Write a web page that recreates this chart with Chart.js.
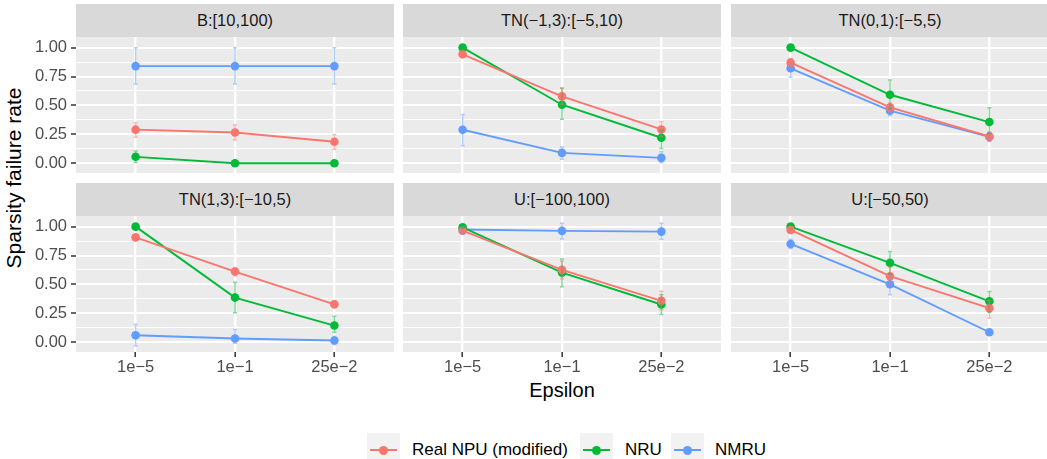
<!DOCTYPE html>
<html>
<head>
<meta charset="utf-8">
<script src="https://cdn.jsdelivr.net/npm/chart.js@4.4.0/dist/chart.umd.min.js"></script>
<style>
  body { margin: 0; width: 1047px; height: 459px; background: #fff; position: relative; overflow: hidden;
         font-family: "Liberation Sans", Arial, sans-serif; }
  .strip { position: absolute; background: #D9D9D9; color: #1A1A1A; font-size: 16.5px;
           display: flex; align-items: center; justify-content: center; }
  .panel { position: absolute; }
  .title { position: absolute; color: #000; font-size: 20px; line-height: 20px; text-align: center; white-space: nowrap; }
  .key { position: absolute; top: 433px; width: 33px; height: 34px; background: #F2F2F2; }
  .key .ln { position: absolute; left: 3px; right: 3px; top: 16px; height: 2px; }
  .key .pt { position: absolute; left: 12px; top: 12.5px; width: 9px; height: 9px; border-radius: 50%; }
  .ltext { position: absolute; top: 440px; font-size: 17px; line-height: 19px; color: #000; white-space: nowrap; }
</style>
</head>
<body>
<div class="title" id="ytitle" style="left:-136px; top:168px; width:300px; font-size:21px; transform:rotate(-90deg);">Sparsity failure rate</div>
<div class="title" style="left:462px; top:380px; width:200px;">Epsilon</div>
<div id="legend"></div>
<script>
// facets and x categories
const facets = ['B:[10,100)', 'TN(\u22121,3):[\u22125,10)', 'TN(0,1):[\u22125,5)',
                'TN(1,3):[\u221210,5)', 'U:[\u2212100,100)', 'U:[\u221250,50)'];
const categories = ['1e\u22125', '1e\u22121', '25e\u22122'];
const yTicks = [0, 0.125, 0.25, 0.375, 0.5, 0.625, 0.75, 0.875, 1];
const yTickLabels = ['0.00', '', '0.25', '', '0.50', '', '0.75', '', '1.00'];

const seriesNames = ['Real NPU (modified)', 'NRU', 'NMRU'];
const seriesColors = ['#F8766D', '#00BA38', '#619CFF'];
const barColors = ['rgba(248,118,109,0.5)', 'rgba(0,186,56,0.5)', 'rgba(97,156,255,0.5)'];

// one row per facet, one value per epsilon
const realNpu = [
  [0.29, 0.265, 0.185], [0.942, 0.578, 0.292], [0.87, 0.483, 0.231],
  [0.907, 0.611, 0.328], [0.965, 0.626, 0.358], [0.971, 0.571, 0.294]
];
const realNpuLo = [
  [0.225, 0.20, 0.12], [0.93, 0.51, 0.228], [0.83, 0.44, 0.19],
  [0.895, 0.575, 0.298], [0.95, 0.55, 0.28], [0.955, 0.50, 0.21]
];
const realNpuHi = [
  [0.35, 0.33, 0.245], [0.955, 0.65, 0.358], [0.905, 0.52, 0.27],
  [0.92, 0.645, 0.358], [0.98, 0.70, 0.44], [0.985, 0.65, 0.36]
];
const nru = [
  [0.055, 0, 0], [1.0, 0.506, 0.22], [1.0, 0.592, 0.356],
  [1.0, 0.386, 0.144], [0.994, 0.602, 0.326], [1.0, 0.686, 0.354]
];
const nruLo = [
  [0.005, 0, 0], [1.0, 0.38, 0.127], [1.0, 0.47, 0.257],
  [1.0, 0.254, 0.086], [0.985, 0.48, 0.24], [1.0, 0.59, 0.26]
];
const nruHi = [
  [0.105, 0, 0], [1.0, 0.648, 0.286], [1.0, 0.72, 0.48],
  [1.0, 0.519, 0.225], [1.0, 0.72, 0.41], [1.0, 0.784, 0.438]
];
const nmru = [
  [0.84, 0.84, 0.84], [0.289, 0.089, 0.046], [0.821, 0.454, 0.228],
  [0.06, 0.032, 0.015], [0.975, 0.963, 0.957], [0.85, 0.501, 0.086]
];
const nmruLo = [
  [0.685, 0.685, 0.685], [0.15, 0.035, 0.006], [0.743, 0.41, 0.19],
  [-0.03, -0.01, -0.02], [0.94, 0.894, 0.89], [0.81, 0.41, 0.07]
];
const nmruHi = [
  [1.0, 1.0, 1.0], [0.422, 0.141, 0.098], [0.86, 0.50, 0.265],
  [0.153, 0.11, 0.05], [1.0, 1.03, 1.03], [0.89, 0.59, 0.10]
];

const series = [realNpu, nru, nmru];
const seriesLo = [realNpuLo, nruLo, nmruLo];
const seriesHi = [realNpuHi, nruHi, nmruHi];

// panel geometry
const colLeft = [76, 403, 731];
const stripTop = [4, 183];
const panelW = 318, stripH = 33, panelH = 136;

const panelBg = {
  id: 'panelBg',
  beforeDraw(chart) {
    const { ctx, chartArea: a } = chart;
    ctx.save();
    ctx.fillStyle = '#EBEBEB';
    ctx.fillRect(a.left, a.top, a.right - a.left, a.bottom - a.top);
    ctx.restore();
  }
};

const errorBars = {
  id: 'errorBars',
  afterDatasetsDraw(chart, args, opts) {
    const { ctx, scales: { x, y } } = chart;
    const f = opts.facet;
    ctx.save();
    ctx.lineWidth = 1.5;
    [2, 1, 0].forEach(s => {
      ctx.strokeStyle = barColors[s];
      const lo = seriesLo[s][f], hi = seriesHi[s][f];
      lo.forEach((l, i) => {
        if (l === hi[i]) return;
        const px = x.getPixelForValue(i);
        const w = x.getPixelForValue(i + 0.02) - px;
        const pLo = y.getPixelForValue(l), pHi = y.getPixelForValue(hi[i]);
        ctx.beginPath();
        ctx.moveTo(px, pLo); ctx.lineTo(px, pHi);
        ctx.moveTo(px - w, pLo); ctx.lineTo(px + w, pLo);
        ctx.moveTo(px - w, pHi); ctx.lineTo(px + w, pHi);
        ctx.stroke();
      });
    });
    ctx.restore();
  }
};

const isMajor = v => Math.abs(v * 4 - Math.round(v * 4)) < 1e-6;

facets.forEach((name, f) => {
  const row = Math.floor(f / 3), col = f % 3;
  const strip = document.createElement('div');
  strip.className = 'strip';
  strip.style.left = colLeft[col] + 'px';
  strip.style.top = stripTop[row] + 'px';
  strip.style.width = panelW + 'px';
  strip.style.height = stripH + 'px';
  strip.textContent = name;
  document.body.appendChild(strip);

  // canvas is larger than the panel so label overflow padding never squeezes it
  const leftM = col === 0 ? 76 : 0;
  const pad = 18;
  const botM = row === 1 ? 30 : pad;
  const panelTop = stripTop[row] + stripH;
  const box = document.createElement('div');
  box.className = 'panel';
  box.style.left = (colLeft[col] - leftM - pad) + 'px';
  box.style.top = (panelTop - pad) + 'px';
  box.style.width = (panelW + leftM + 2 * pad) + 'px';
  box.style.height = (panelH + pad + botM) + 'px';
  const canvas = document.createElement('canvas');
  box.appendChild(canvas);
  document.body.appendChild(box);

  new Chart(canvas, {
    type: 'line',
    data: {
      datasets: seriesNames.map((label, s) => ({
        label,
        data: series[s][f].map((v, i) => ({ x: i, y: v })),
        borderColor: seriesColors[s],
        backgroundColor: seriesColors[s],
        borderWidth: 1.9,
        pointRadius: 4.3,
        pointBorderWidth: 0,
        pointBackgroundColor: seriesColors[s],
        tension: 0
      }))
    },
    options: {
      responsive: true,
      maintainAspectRatio: false,
      animation: false,
      events: [],
      layout: { autoPadding: false,
                padding: { top: pad, bottom: row === 1 ? 0 : pad, left: pad, right: pad } },
      plugins: { legend: { display: false }, tooltip: { enabled: false }, errorBars: { facet: f } },
      scales: {
        x: {
          type: 'linear', min: -0.6, max: 2.6,
          afterBuildTicks: s => { s.ticks = categories.map((c, i) => ({ value: i })); },
          afterFit: s => { s.height = row === 1 ? 30 : 0; },
          border: { display: false },
          grid: { color: '#FFFFFF', lineWidth: 2.4, drawTicks: row === 1, tickLength: 5,
                  tickColor: '#333333', tickWidth: 1.5 },
          ticks: { display: row === 1, padding: 1, color: '#4D4D4D',
                   font: { size: 16.5, family: '"Liberation Sans", Arial, sans-serif' },
                   maxRotation: 0, autoSkip: false,
                   callback: v => categories[v] }
        },
        y: {
          type: 'linear', min: -0.085, max: 1.092,
          afterBuildTicks: s => { s.ticks = yTicks.map(v => ({ value: v })); },
          afterFit: s => { s.width = leftM; },
          border: { display: false },
          grid: { color: '#FFFFFF',
                  lineWidth: c => isMajor(c.tick.value) ? 2 : 1,
                  drawTicks: col === 0, tickLength: 5,
                  tickColor: c => isMajor(c.tick.value) ? '#333333' : 'rgba(0,0,0,0)',
                  tickWidth: 1.5 },
          ticks: { display: col === 0, padding: 4, color: '#4D4D4D', autoSkip: false,
                   font: { size: 16.5, family: '"Liberation Sans", Arial, sans-serif' },
                   callback: v => yTickLabels[yTicks.indexOf(v)] }
        }
      }
    },
    plugins: [panelBg, errorBars]
  });
});

// legend at the bottom
const keyLeft = [367, 580, 671];
const textLeft = [412, 625, 715];
const legend = document.getElementById('legend');
seriesNames.forEach((name, s) => {
  const key = document.createElement('div');
  key.className = 'key';
  key.style.left = keyLeft[s] + 'px';
  key.innerHTML = '<div class="ln" style="background:' + seriesColors[s] + '"></div>' +
                  '<div class="pt" style="background:' + seriesColors[s] + '"></div>';
  legend.appendChild(key);
  const t = document.createElement('div');
  t.className = 'ltext';
  t.style.left = textLeft[s] + 'px';
  t.textContent = name;
  legend.appendChild(t);
});
</script>
</body>
</html>
